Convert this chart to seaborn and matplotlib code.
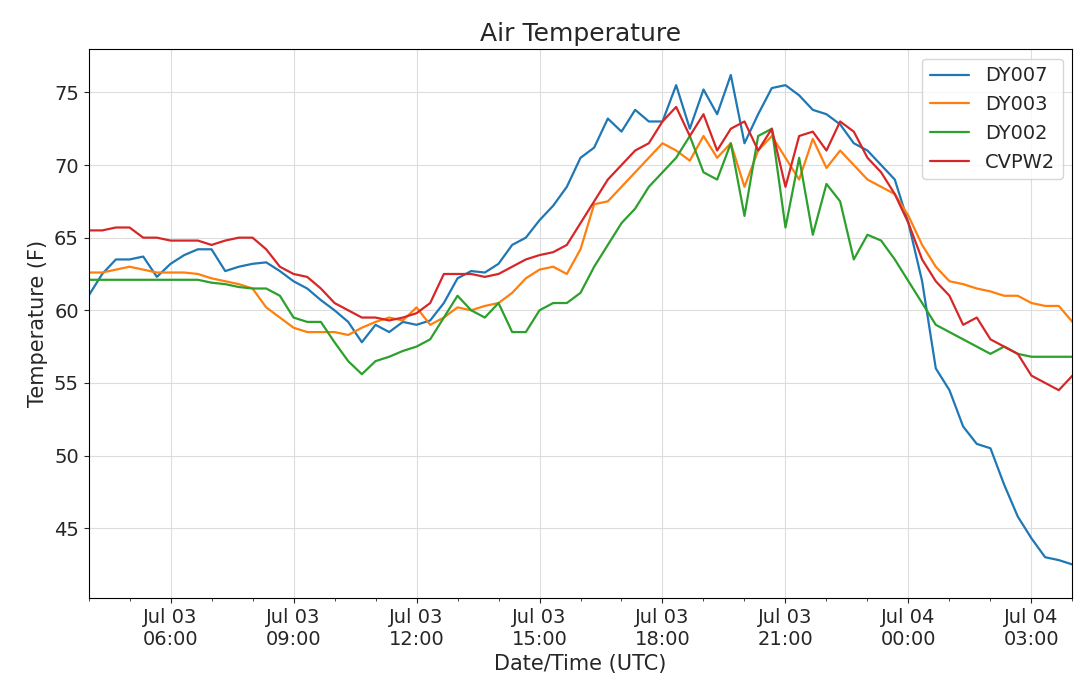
import numpy as np
import pandas as pd
import matplotlib
matplotlib.use('Agg')
import matplotlib.pyplot as plt
import matplotlib.dates as mdates
import seaborn as sns

# 20-minute samples from Jul 03 04:00 to Jul 04 04:00 UTC
times = pd.date_range('2019-07-03 04:00', '2019-07-04 04:00', freq='20min')

dy007 = [61.0, 62.5, 63.5, 63.5, 63.7, 62.3, 63.2, 63.8, 64.2, 64.2, 62.7, 63.0,
         63.2, 63.3, 62.7, 62.0, 61.5, 60.7, 60.0, 59.2, 57.8, 59.0, 58.5, 59.2,
         59.0, 59.3, 60.5, 62.2, 62.7, 62.6, 63.2, 64.5, 65.0, 66.2, 67.2, 68.5,
         70.5, 71.2, 73.2, 72.3, 73.8, 73.0, 73.0, 75.5, 72.5, 75.2, 73.5, 76.2,
         71.5, 73.5, 75.3, 75.5, 74.8, 73.8, 73.5, 72.8, 71.5, 71.0, 70.0, 69.0,
         66.0, 62.0, 56.0, 54.5, 52.0, 50.8, 50.5, 48.0, 45.8, 44.3, 43.0, 42.8,
         42.5]
dy003 = [62.6, 62.6, 62.8, 63.0, 62.8, 62.6, 62.6, 62.6, 62.5, 62.2, 62.0, 61.8,
         61.5, 60.2, 59.5, 58.8, 58.5, 58.5, 58.5, 58.3, 58.8, 59.2, 59.5, 59.3,
         60.2, 59.0, 59.5, 60.2, 60.0, 60.3, 60.5, 61.2, 62.2, 62.8, 63.0, 62.5,
         64.2, 67.3, 67.5, 68.5, 69.5, 70.5, 71.5, 71.0, 70.3, 72.0, 70.5, 71.5,
         68.5, 71.0, 72.0, 70.5, 69.0, 71.8, 69.8, 71.0, 70.0, 69.0, 68.5, 68.0,
         66.5, 64.5, 63.0, 62.0, 61.8, 61.5, 61.3, 61.0, 61.0, 60.5, 60.3, 60.3,
         59.2]
dy002 = [62.1, 62.1, 62.1, 62.1, 62.1, 62.1, 62.1, 62.1, 62.1, 61.9, 61.8, 61.6,
         61.5, 61.5, 61.0, 59.5, 59.2, 59.2, 57.8, 56.5, 55.6, 56.5, 56.8, 57.2,
         57.5, 58.0, 59.5, 61.0, 60.0, 59.5, 60.5, 58.5, 58.5, 60.0, 60.5, 60.5,
         61.2, 63.0, 64.5, 66.0, 67.0, 68.5, 69.5, 70.5, 72.0, 69.5, 69.0, 71.5,
         66.5, 72.0, 72.5, 65.7, 70.5, 65.2, 68.7, 67.5, 63.5, 65.2, 64.8, 63.5,
         62.0, 60.5, 59.0, 58.5, 58.0, 57.5, 57.0, 57.5, 57.0, 56.8, 56.8, 56.8,
         56.8]
cvpw2 = [65.5, 65.5, 65.7, 65.7, 65.0, 65.0, 64.8, 64.8, 64.8, 64.5, 64.8, 65.0,
         65.0, 64.2, 63.0, 62.5, 62.3, 61.5, 60.5, 60.0, 59.5, 59.5, 59.3, 59.5,
         59.8, 60.5, 62.5, 62.5, 62.5, 62.3, 62.5, 63.0, 63.5, 63.8, 64.0, 64.5,
         66.0, 67.5, 69.0, 70.0, 71.0, 71.5, 73.0, 74.0, 72.0, 73.5, 71.0, 72.5,
         73.0, 71.0, 72.5, 68.5, 72.0, 72.3, 71.0, 73.0, 72.3, 70.5, 69.5, 68.0,
         66.0, 63.5, 62.0, 61.0, 59.0, 59.5, 58.0, 57.5, 57.0, 55.5, 55.0, 54.5,
         55.5]

df = pd.DataFrame({'time': times, 'DY007': dy007, 'DY003': dy003,
                   'DY002': dy002, 'CVPW2': cvpw2})
long = df.melt(id_vars='time', var_name='station', value_name='temp')

sns.set_style('ticks')
plt.rcParams['font.family'] = ['DejaVu Sans']
fig = plt.figure(figsize=(10.8, 6.88), dpi=100)
ax = fig.add_axes([0.082, 0.131, 0.911, 0.798])

palette = ['#1f77b4', '#ff7f0e', '#2ca02c', '#d62728']
sns.lineplot(data=long, x='time', y='temp', hue='station', palette=palette,
             linewidth=1.6, ax=ax)

ax.set_xlim(times[0], times[-1])
ax.set_ylim(40.2, 78.0)
ax.xaxis.set_major_locator(mdates.HourLocator(byhour=[0, 3, 6, 9, 12, 15, 18, 21]))
ax.xaxis.set_minor_locator(mdates.HourLocator())
ax.xaxis.set_major_formatter(mdates.DateFormatter('%b %d\n%H:%M'))
ax.grid(True, which='major', color='#dddddd', linewidth=0.8)
ax.tick_params(labelsize=14)
for s in ax.spines.values():
    s.set_color('black')
ax.set_title('Air Temperature', fontsize=18)
ax.set_xlabel('Date/Time (UTC)', fontsize=15)
ax.set_ylabel('Temperature (F)', fontsize=15)
ax.legend(title=None, fontsize=14, loc='upper right')

fig.savefig('out.png', dpi=100)
